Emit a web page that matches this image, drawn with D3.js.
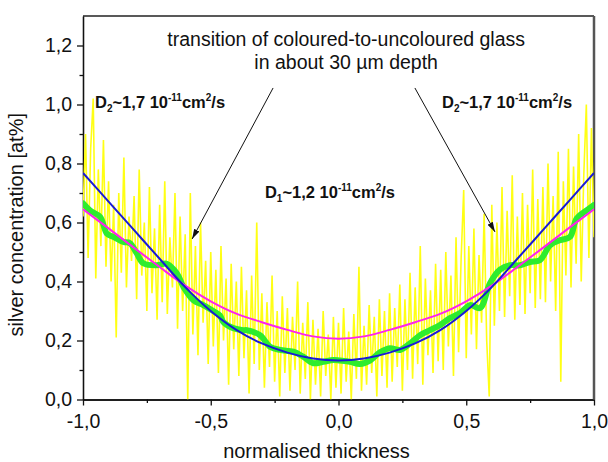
<!DOCTYPE html>
<html>
<head>
<meta charset="utf-8">
<script src="https://cdn.jsdelivr.net/npm/d3@7"></script>
<style>
    body { margin: 0; background: #fff; }
    #chart { width: 608px; height: 462px; }
    text { font-family: "Liberation Sans", Arial, sans-serif; fill: #111; }
    .axis text { font-size: 19.5px; }
    .axis path, .axis line { stroke: #111; stroke-width: 1.3; }
    .axis-title { font-size: 20px; }
    .note { font-size: 19.5px; }
    .coef { font-size: 16.5px; font-weight: bold; }
</style>
</head>
<body>
<div id="chart"></div>
<script>

// axis ticks
const xMajor = [-1, -0.5, 0, 0.5, 1];
const xMinor = [-0.75, -0.25, 0.25, 0.75];
const yMajor = [0, 0.2, 0.4, 0.6, 0.8, 1.0, 1.2];
const yMinor = [0.1, 0.3, 0.5, 0.7, 0.9, 1.1];

// measured profile (yellow), one value every 0.01 from -1 to 1
const rawValues = [
    0.62, 0.90, 0.48, 0.85, 1.02, 0.41, 0.78, 0.52, 0.88, 0.45,
    0.74, 0.40, 0.66, 0.21, 0.70, 0.43, 0.82, 0.38, 0.62, 0.47,
    0.69, 0.34, 0.78, 0.42, 0.60, 0.30, 0.72, 0.36, 0.58, 0.27,
    0.66, 0.33, 0.74, 0.29, 0.55, 0.38, 0.70, 0.24, 0.62, 0.30,
    0.56, 0.00, 0.70, 0.22, 0.52, 0.15, 0.60, 0.26, 0.47, 0.12,
    0.50, 0.18, 0.44, 0.09, 0.52, 0.20, 0.41, 0.05, 0.46, 0.17,
    0.40, 0.08, 0.45, 0.14, 0.37, 0.02, 0.42, 0.12, 0.60, 0.10,
    0.36, 0.04, 0.33, 0.11, 0.42, 0.06, 0.30, 0.01, 0.35, 0.09,
    0.31, 0.03, 0.28, 0.10, 0.40, 0.02, 0.26, 0.07, 0.33, 0.00,
    0.27, 0.05, 0.24, 0.01, 0.30, 0.08, 0.22, 0.00, 0.28, 0.04,
    0.26, 0.02, 0.31, 0.06, 0.23, 0.00, 0.29, 0.07, 0.45, 0.03,
    0.25, 0.05, 0.32, 0.09, 0.28, 0.01, 0.34, 0.08, 0.30, 0.04,
    0.36, 0.06, 0.31, 0.11, 0.39, 0.03, 0.34, 0.10, 0.43, 0.07,
    0.38, 0.12, 0.52, 0.05, 0.41, 0.15, 0.37, 0.09, 0.46, 0.13,
    0.44, 0.10, 0.50, 0.18, 0.42, 0.08, 0.55, 0.16, 0.48, 0.71,
    0.14, 0.52, 0.22, 0.58, 0.17, 0.49, 0.26, 0.63, 0.20, 0.01,
    0.66, 0.25, 0.60, 0.30, 0.72, 0.28, 0.64, 0.35, 0.76, 0.27,
    0.62, 0.32, 0.70, 0.29, 0.66, 0.36, 0.78, 0.31, 0.68, 0.34,
    0.72, 0.33, 0.80, 0.40, 0.69, 0.30, 0.84, 0.06, 0.74, 0.42,
    0.85, 0.38, 0.79, 0.46, 0.90, 0.40, 0.76, 1.00, 0.48, 0.92,
    0.55
];

// smoothed profile (green)
const smoothX = [-1.00, -0.973, -0.933, -0.907, -0.881, -0.842, -0.816, -0.79, -0.764, -0.712,
    -0.672, -0.633, -0.607, -0.568, -0.529, -0.49, -0.464, -0.451, -0.412, -0.373,
    -0.359, -0.307, -0.268, -0.229, -0.177, -0.138, -0.099, -0.059, -0.02, 0.006,
    0.045, 0.084, 0.123, 0.162, 0.201, 0.241, 0.28, 0.319, 0.358, 0.397,
    0.436, 0.476, 0.515, 0.554, 0.593, 0.632, 0.671, 0.71, 0.749, 0.788,
    0.828, 0.867, 0.906, 0.932, 0.971, 1.00];
const smoothY = [0.665, 0.641, 0.619, 0.563, 0.551, 0.534, 0.53, 0.496, 0.462, 0.455,
    0.46, 0.428, 0.382, 0.337, 0.32, 0.30, 0.285, 0.263, 0.242, 0.235,
    0.235, 0.218, 0.179, 0.168, 0.162, 0.145, 0.123, 0.128, 0.134, 0.132,
    0.128, 0.12, 0.132, 0.16, 0.174, 0.168, 0.19, 0.218, 0.235, 0.252,
    0.276, 0.293, 0.32, 0.31, 0.394, 0.44, 0.455, 0.455, 0.466, 0.472,
    0.523, 0.54, 0.551, 0.614, 0.641, 0.66];

// diffusion fits, every 0.1 from -1 to 1
const fitX = [-1.0, -0.9, -0.8, -0.7, -0.6, -0.5, -0.4, -0.3, -0.2, -0.1, 0,
    0.1, 0.2, 0.3, 0.4, 0.5, 0.6, 0.7, 0.8, 0.9, 1.0];
const fitTwoD = [0.768, 0.671, 0.574, 0.477, 0.381, 0.300, 0.236, 0.190, 0.159, 0.139, 0.132,
    0.139, 0.159, 0.190, 0.236, 0.300, 0.381, 0.477, 0.574, 0.671, 0.768];
const fitOneD = [0.645, 0.580, 0.514, 0.449, 0.386, 0.333, 0.291, 0.262, 0.236, 0.214, 0.206,
    0.214, 0.236, 0.262, 0.291, 0.333, 0.386, 0.449, 0.514, 0.580, 0.645];

class ProfilePlot {

    constructor(parentElement) {
        this.parentElement = parentElement;
        this.initVis();
    }

    initVis() {
        let vis = this;

        vis.margin = {top: 16, right: 14, bottom: 62.5, left: 83};
        vis.width = 608 - vis.margin.left - vis.margin.right;
        vis.height = 462 - vis.margin.top - vis.margin.bottom;

        vis.svg = d3.select("#" + vis.parentElement).append("svg")
            .attr("width", 608)
            .attr("height", 462)
            .append("g")
            .attr("transform", `translate(${vis.margin.left},${vis.margin.top})`);

        vis.x = d3.scaleLinear().domain([-1, 1]).range([0, vis.width]);
        vis.y = d3.scaleLinear().domain([0, 1.3]).range([vis.height, 0]);

        vis.svg.append("clipPath").attr("id", "plot-clip")
            .append("rect")
            .attr("width", vis.width)
            .attr("height", vis.height);

        vis.fmt = d => d3.format(".1f")(d).replace(".", ",").replace("\u2212", "-");

        vis.drawAxes();
        vis.drawData();
        vis.drawNotes();
    }

    drawAxes() {
        let vis = this;

        // minor ticks first, majors on top
        vis.svg.append("g").attr("class", "axis")
            .attr("transform", `translate(0,${vis.height})`)
            .call(d3.axisBottom(vis.x).tickValues(xMinor).tickSize(3.5).tickFormat("").tickSizeOuter(0));
        vis.svg.append("g").attr("class", "axis")
            .call(d3.axisLeft(vis.y).tickValues(yMinor).tickSize(3.5).tickFormat("").tickSizeOuter(0));

        let xAxis = vis.svg.append("g").attr("class", "axis")
            .attr("transform", `translate(0,${vis.height})`)
            .call(d3.axisBottom(vis.x).tickValues(xMajor).tickSize(6).tickPadding(9).tickFormat(vis.fmt).tickSizeOuter(0));
        xAxis.selectAll("text").attr("fill", "#111");

        let yAxis = vis.svg.append("g").attr("class", "axis")
            .call(d3.axisLeft(vis.y).tickValues(yMajor).tickSize(6).tickPadding(5).tickFormat(vis.fmt).tickSizeOuter(0));
        yAxis.selectAll("text").attr("fill", "#111");

        // frame: top and right
        vis.svg.append("line")
            .attr("x1", 0).attr("x2", vis.width)
            .attr("y1", 0).attr("y2", 0)
            .attr("stroke", "#222").attr("stroke-width", 1.5);
        vis.svg.append("line")
            .attr("x1", vis.width).attr("x2", vis.width)
            .attr("y1", 0).attr("y2", vis.height)
            .attr("stroke", "#555").attr("stroke-width", 2.5);

        vis.svg.append("text")
            .attr("class", "axis-title")
            .attr("text-anchor", "middle")
            .attr("x", vis.width / 2 - 22)
            .attr("y", vis.height + 58)
            .text("normalised thickness");

        vis.svg.append("text")
            .attr("class", "axis-title")
            .attr("text-anchor", "middle")
            .attr("transform", `translate(-60,${vis.height / 2 + 17}) rotate(-90)`)
            .text("silver concentration [at%]");
    }

    drawData() {
        let vis = this;

        let plot = vis.svg.append("g").attr("clip-path", "url(#plot-clip)");

        let raw = rawValues.map((v, i) => ({x: -1 + i * 0.01, y: v}));
        let smooth = smoothX.map((v, i) => ({x: v, y: smoothY[i]}));
        let twoD = fitX.map((v, i) => ({x: v, y: fitTwoD[i]}));
        let oneD = fitX.map((v, i) => ({x: v, y: fitOneD[i]}));

        let line = d3.line().x(d => vis.x(d.x)).y(d => vis.y(d.y));
        let curve = d3.line().x(d => vis.x(d.x)).y(d => vis.y(d.y)).curve(d3.curveCatmullRom);

        plot.append("path").datum(raw)
            .attr("fill", "none").attr("stroke", "#ffff14").attr("stroke-width", 1.6)
            .attr("d", line);

        plot.append("path").datum(smooth)
            .attr("fill", "none").attr("stroke", "#2eec2e").attr("stroke-width", 6)
            .attr("stroke-linejoin", "round").attr("stroke-linecap", "round")
            .attr("d", curve);

        plot.append("path").datum(oneD)
            .attr("fill", "none").attr("stroke", "#ff22ee").attr("stroke-width", 2)
            .attr("d", curve);

        plot.append("path").datum(twoD)
            .attr("fill", "none").attr("stroke", "#1a1ad6").attr("stroke-width", 2)
            .attr("d", curve);
    }

    drawNotes() {
        let vis = this;

        vis.svg.append("defs").append("marker")
            .attr("id", "head")
            .attr("viewBox", "0 0 10 6")
            .attr("refX", 10).attr("refY", 3)
            .attr("markerWidth", 10).attr("markerHeight", 6)
            .attr("markerUnits", "userSpaceOnUse")
            .attr("orient", "auto")
            .append("path")
            .attr("d", "M0,0L10,3L0,6Z")
            .attr("fill", "#111");

        let arrows = [
            {x1: -0.256, y1: 1.056, x2: -0.573, y2: 0.544},
            {x1: 0.299, y1: 1.056, x2: 0.6125, y2: 0.568}
        ];
        vis.svg.selectAll(".arrow").data(arrows).join("line")
            .attr("class", "arrow")
            .attr("x1", d => vis.x(d.x1)).attr("y1", d => vis.y(d.y1))
            .attr("x2", d => vis.x(d.x2)).attr("y2", d => vis.y(d.y2))
            .attr("stroke", "#111").attr("stroke-width", 1)
            .attr("marker-end", "url(#head)");

        vis.svg.append("text").attr("class", "note")
            .attr("text-anchor", "middle")
            .attr("x", vis.x(0.03)).attr("y", vis.y(1.198))
            .text("transition of coloured-to-uncoloured glass");
        vis.svg.append("text").attr("class", "note")
            .attr("text-anchor", "middle")
            .attr("x", vis.x(0.03)).attr("y", vis.y(1.12))
            .text("in about 30 \u00b5m depth");

        let coefs = [
            {x: -0.953, y: 0.988, sub: "2", val: "~1,7 10"},
            {x: 0.405, y: 0.988, sub: "2", val: "~1,7 10"},
            {x: -0.288, y: 0.683, sub: "1", val: "~1,2 10"}
        ];
        coefs.forEach(c => {
            let t = vis.svg.append("text").attr("class", "coef")
                .attr("x", vis.x(c.x)).attr("y", vis.y(c.y));
            t.append("tspan").text("D");
            t.append("tspan").attr("dy", 4).attr("font-size", 10).text(c.sub);
            t.append("tspan").attr("dy", -4).text(c.val);
            t.append("tspan").attr("dy", -7).attr("font-size", 10).text("-11");
            t.append("tspan").attr("dy", 7).text("cm");
            t.append("tspan").attr("dy", -7).attr("font-size", 10).text("2");
            t.append("tspan").attr("dy", 7).text("/s");
        });
    }
}

new ProfilePlot("chart");

</script>
</body>
</html>
